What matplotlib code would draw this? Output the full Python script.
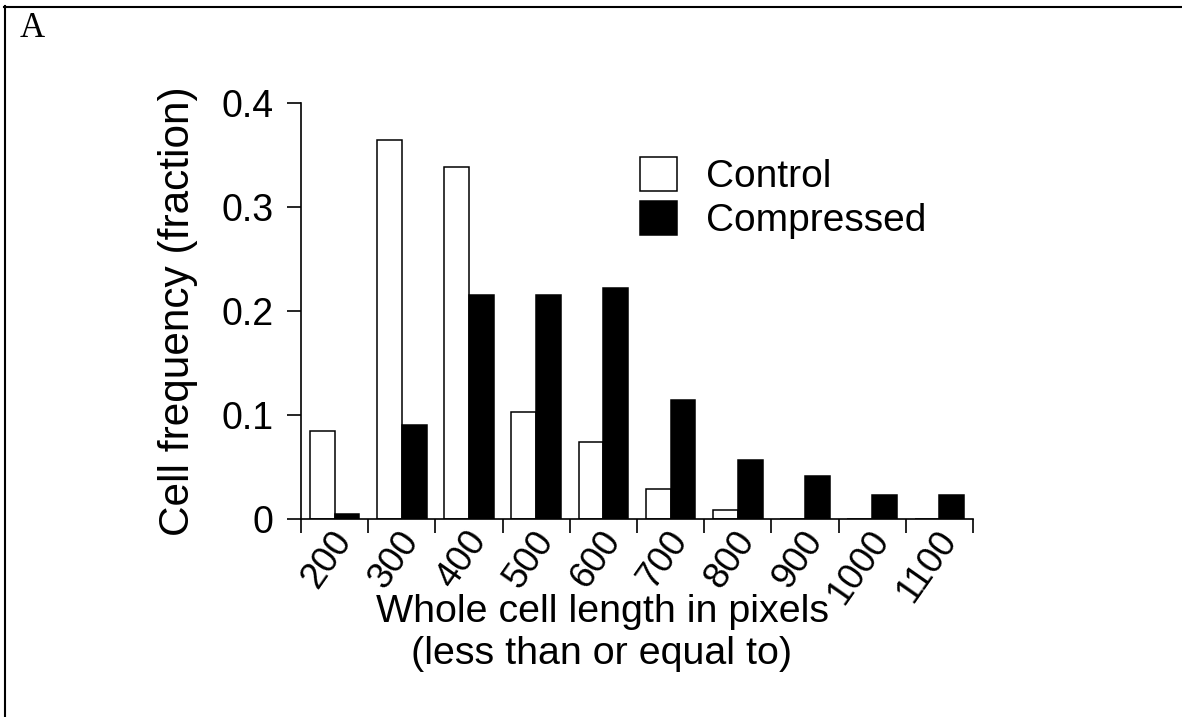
import numpy as np
import matplotlib
matplotlib.use('Agg')
import matplotlib.pyplot as plt
import matplotlib.transforms as mtransforms
from matplotlib.lines import Line2D
from matplotlib.patches import Patch

# bins: whole cell length in pixels (less than or equal to)
bins = ['200', '300', '400', '500', '600', '700', '800', '900', '1000', '1100']
control = [0.085, 0.364, 0.338, 0.103, 0.074, 0.029, 0.009, 0.0, 0.0, 0.0]
compressed = [0.005, 0.090, 0.215, 0.215, 0.222, 0.114, 0.057, 0.041, 0.023, 0.023]
yticks = [0, 0.1, 0.2, 0.3, 0.4]
ytick_labels = ['0', '0.1', '0.2', '0.3', '0.4']

plt.rcParams['font.family'] = ['Liberation Sans', 'DejaVu Sans']

W, H = 1182, 717
fig = plt.figure(figsize=(W / 100, H / 100), dpi=100)
ax = fig.add_axes([301 / W, 1 - 519 / H, 672 / W, (519 - 102.7) / H])

x = np.arange(len(bins))
bw = 0.37
ax.bar(x - bw / 2, control, width=bw, color='white', edgecolor='black', linewidth=1.1, label='Control')
ax.bar(x + bw / 2, compressed, width=bw, color='black', edgecolor='black', linewidth=1.1, label='Compressed')

ax.set_xlim(-0.5, len(bins) - 0.5)
ax.set_ylim(0, 0.4)

for s in ['top', 'right']:
    ax.spines[s].set_visible(False)
for s in ['left', 'bottom']:
    ax.spines[s].set_linewidth(1.2)

ax.set_yticks(yticks, ytick_labels)
ax.tick_params(axis='y', length=10, width=1.2, pad=10, labelsize=27)

# boundary ticks drawn as minor ticks, labels at bar group centres
ax.set_xticks(np.arange(-0.5, len(bins)), minor=True)
ax.set_xticks(x, bins)
ax.tick_params(axis='x', which='minor', length=10, width=1.2)
ax.tick_params(axis='x', which='major', length=0, pad=11, labelsize=26.5)
offset = mtransforms.ScaledTranslation(10 / 100, 0, fig.dpi_scale_trans)
for lab in ax.get_xticklabels():
    lab.set_rotation(55)
    lab.set_ha('right')
    lab.set_va('center')
    lab.set_rotation_mode('anchor')
    lab.set_transform(lab.get_transform() + offset)

ax.set_ylabel('Cell frequency (fraction)', fontsize=30.5)
ax.yaxis.set_label_coords(-0.153, 0.5)
ax.set_xlabel('Whole cell length in pixels\n(less than or equal to)', fontsize=28.4,
              linespacing=1.2)
ax.xaxis.set_label_coords(0.448, -0.18)

handles = [Patch(facecolor='white', edgecolor='black', linewidth=1.1),
           Patch(facecolor='black', edgecolor='black', linewidth=1.1)]
ax.legend(handles, ['Control', 'Compressed'], loc='upper left', frameon=False,
          fontsize=28, handlelength=0.95, handleheight=0.95, handletextpad=0.75,
          labelspacing=0.15, borderpad=0, borderaxespad=0,
          bbox_to_anchor=(640 / W, 1 - 157 / H), bbox_transform=fig.transFigure)

# frame lines along the top and left of the panel, and panel letter
fig.add_artist(Line2D([4 / W, 1], [1 - 6.5 / H, 1 - 6.5 / H], color='black', lw=1.5,
                      transform=fig.transFigure))
fig.add_artist(Line2D([5 / W, 5 / W], [0, 1 - 5.5 / H], color='black', lw=1.5,
                      transform=fig.transFigure))
fig.text(20 / W, 1 - 37 / H, 'A', fontsize=25, family=['Liberation Serif', 'DejaVu Serif'],
         va='baseline', ha='left')

fig.savefig('out.png', dpi=100)
